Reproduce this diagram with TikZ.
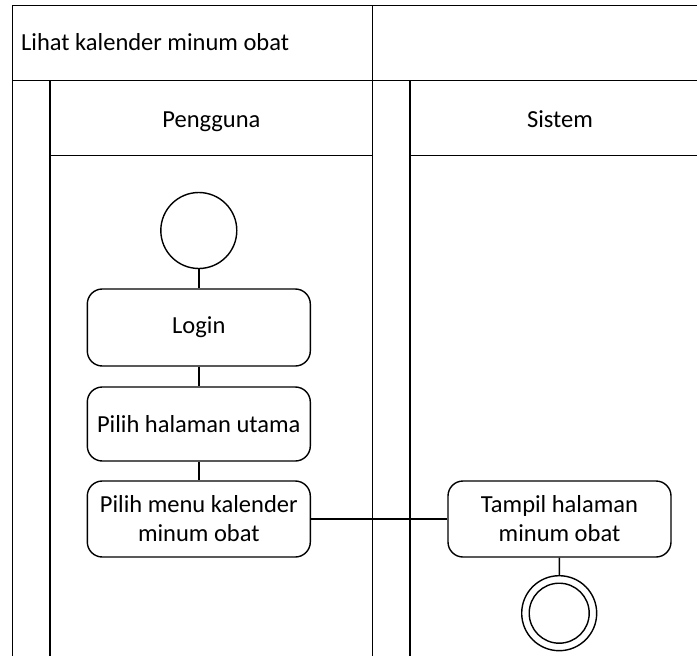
\documentclass[tikz,border=0pt]{standalone}
\usepackage{fontspec}
\setmainfont{Carlito}
\begin{document}
\begin{tikzpicture}[x=1pt,y=-1pt,
  frame/.style={line width=1.4pt,black},
  conn/.style={line width=1.4pt,black},
  label/.style={font=\fontsize{24.5}{29}\selectfont,inner sep=0pt,align=center},
  action/.style={draw,line width=1.4pt,rounded corners=15pt,
    minimum width=223pt,inner sep=0pt,
    font=\fontsize{24.5}{29}\selectfont,align=center},
  initial/.style={draw,circle,line width=1.4pt,minimum size=76pt,inner sep=0pt},
  finalring/.style={draw,circle,line width=1.4pt,inner sep=0pt}]
\useasboundingbox (0,0) rectangle (697,656);
\clip (0,0) rectangle (697,656);
\fill[white] (0,0) rectangle (697,656);

% pool frames and lanes
\draw[frame] (12.7,700) -- (12.7,5.7) -- (720,5.7);
\draw[frame] (12.7,80.3) -- (720,80.3);
\draw[frame] (372.7,5.7) -- (372.7,700);
\draw[frame] (50,80.3) -- (50,700);
\draw[frame] (410,80.3) -- (410,700);
\draw[frame] (50,155.3) -- (372.7,155.3);
\draw[frame] (410,155.3) -- (720,155.3);

% titles
\node[label,anchor=base west] (title) at (21,50.7) {Lihat kalender minum obat};
\node[label,anchor=base] (lanea) at (211.4,127) {Pengguna};
\node[label,anchor=base] (laneb) at (560,127) {Sistem};

% activity flow
\node[initial] (start) at (198.8,230.5) {};
\node[action,minimum height=77pt] (login) at (198.8,327.5) {Login};
\node[action,minimum height=74pt] (home) at (198.8,424) {Pilih halaman utama};
\node[action,minimum height=76pt] (menu) at (198.8,519) {Pilih menu kalender\\minum obat};
\node[action,minimum height=76pt] (show) at (559.5,519) {Tampil halaman\\minum obat};
\node[finalring,minimum size=75pt] (final) at (559.2,613.2) {};
\node[finalring,minimum size=60pt] (finalin) at (final.center) {};

\draw[conn] (start) -- (login);
\draw[conn] (login) -- (home);
\draw[conn] (home) -- (menu);
\draw[conn] (menu) -- (show);
\draw[conn] (show) -- (final);
\end{tikzpicture}
\end{document}
